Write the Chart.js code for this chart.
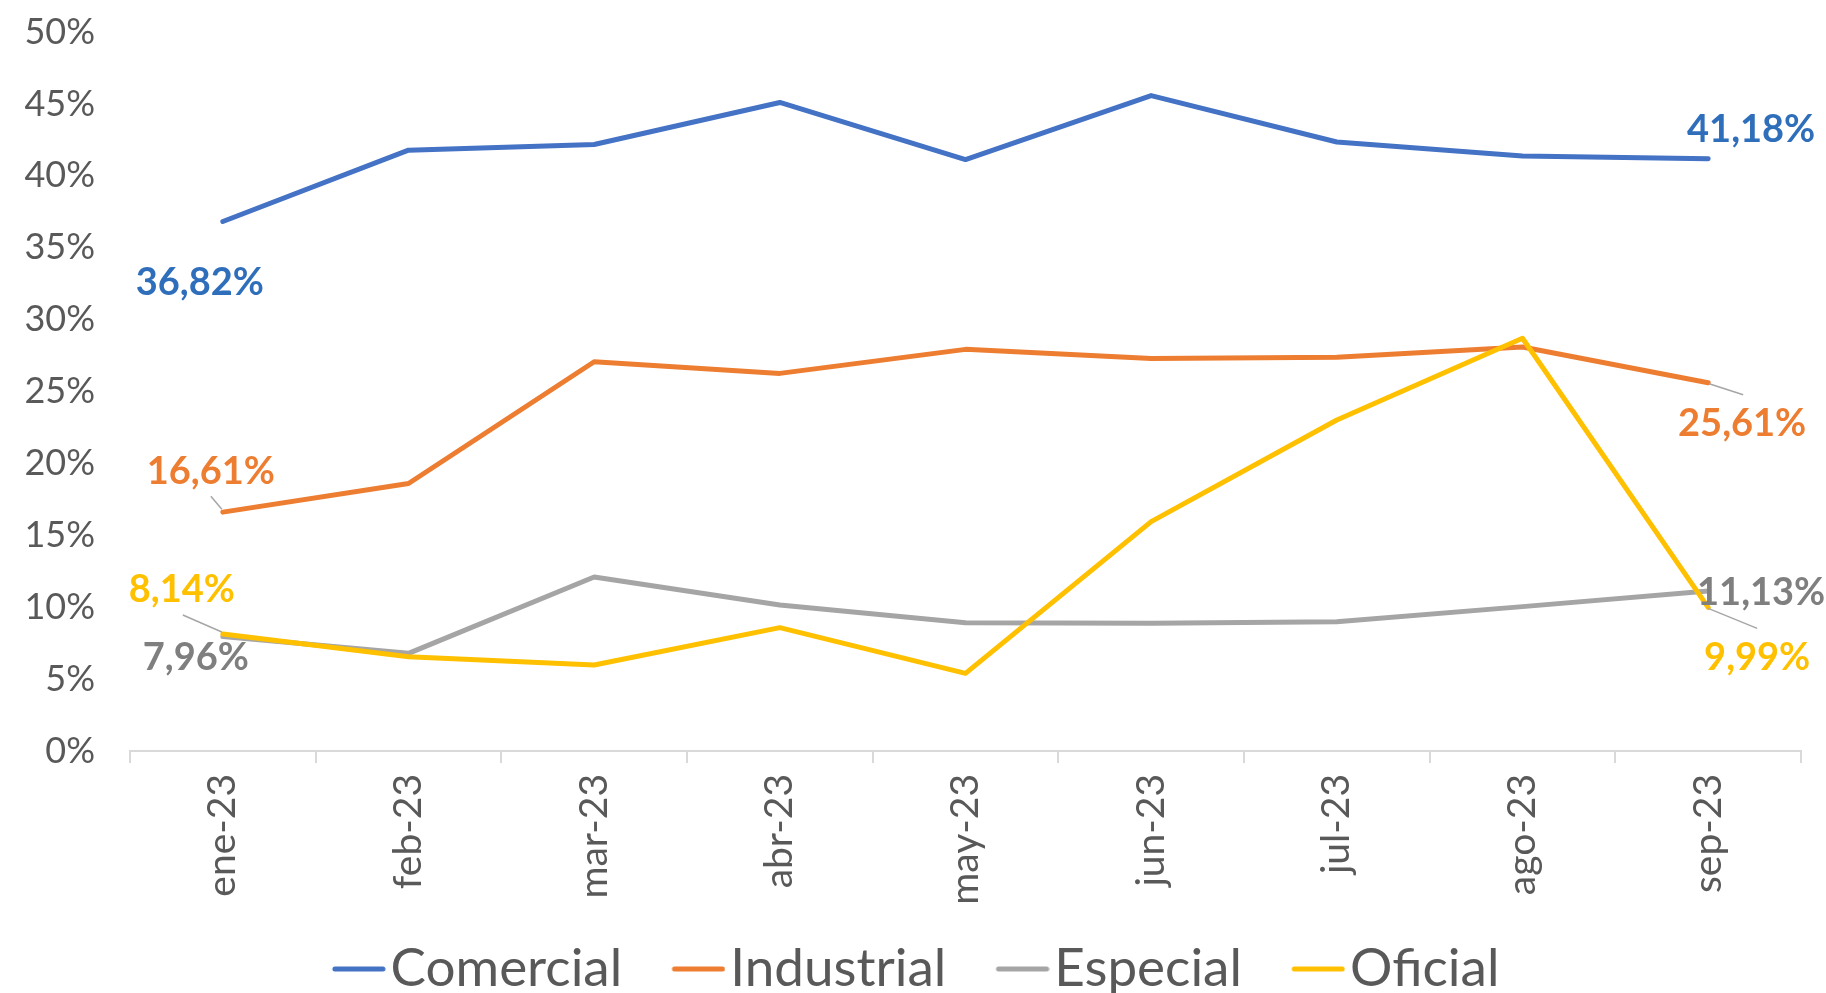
<!DOCTYPE html>
<html>
<head>
<meta charset="utf-8">
<script src="https://cdn.jsdelivr.net/npm/chart.js@4.4.0/dist/chart.umd.min.js"></script>
<style>
html,body{margin:0;padding:0;background:#fff;}
#wrap{width:1826px;height:993px;position:relative;overflow:hidden;}
</style>
</head>
<body>
<div id="wrap"><canvas id="c" width="1826" height="993"></canvas></div>
<script>
// ---- data ----
const categories = ['ene-23','feb-23','mar-23','abr-23','may-23','jun-23','jul-23','ago-23','sep-23'];
const comercial  = [36.82, 41.78, 42.18, 45.10, 41.13, 45.58, 42.35, 41.37, 41.18];
const industrial = [16.61, 18.60, 27.07, 26.26, 27.93, 27.30, 27.38, 28.10, 25.61];
const especial   = [7.96, 6.79, 12.10, 10.15, 8.92, 8.88, 8.99, 10.04, 11.13];
const oficial    = [8.14, 6.56, 5.98, 8.58, 5.40, 15.95, 23.02, 28.70, 9.99];
const seriesNames = ['Comercial','Industrial','Especial','Oficial'];
const yTickValues = [0, 5, 10, 15, 20, 25, 30, 35, 40, 45, 50];

const FONT = "Lato, 'Open Sans', 'DejaVu Sans', sans-serif";
const colors = ['#4472C4', '#ED7D31', '#A5A5A5', '#FFC000'];
const labelColors = ['#2F6EBA', '#ED7D31', '#7F7F7F', '#FFC000'];

// endpoint label placement (offsets from the point, in px)
const labelPlacement = [
  [{i:0, dx:-23, dy:61}, {i:8, dx:43, dy:-29}],
  [{i:0, dx:-12, dy:-40, leader:[[-1,-3],[-12,-16]]}, {i:8, dx:34, dy:41, leader:[[1,1],[35,12]]}],
  [{i:0, dx:-27, dy:21}, {i:8, dx:53, dy:2}],
  [{i:0, dx:-41, dy:-44, leader:[[-1,-2],[-40,-19]]}, {i:8, dx:49, dy:50, leader:[[0,1],[49,21]]}]
];

function legendLine(color){
  const c = document.createElement('canvas');
  c.width = 115; c.height = 12;
  const g = c.getContext('2d');
  g.strokeStyle = color; g.lineWidth = 5; g.lineCap = 'round';
  g.beginPath(); g.moveTo(64, 6); g.lineTo(112, 6); g.stroke();
  return c;
}
const legendImgs = colors.map(legendLine);

const endLabels = {
  id: 'endLabels',
  afterLayout(chart){
    if (chart.legend) { chart.legend.left -= 9; }
  },
  afterDatasetsDraw(chart){
    const ctx = chart.ctx;
    ctx.save();
    chart.data.datasets.forEach((ds, di) => {
      const meta = chart.getDatasetMeta(di);
      labelPlacement[di].forEach(p => {
        const pt = meta.data[p.i];
        const v = ds.data[p.i];
        if (p.leader){
          ctx.strokeStyle = '#A6A6A6'; ctx.lineWidth = 1.5;
          ctx.beginPath();
          ctx.moveTo(pt.x + p.leader[0][0], pt.y + p.leader[0][1]);
          ctx.lineTo(pt.x + p.leader[1][0], pt.y + p.leader[1][1]);
          ctx.stroke();
        }
        ctx.font = "bold 38px " + FONT;
        ctx.fillStyle = labelColors[di];
        ctx.textAlign = 'center'; ctx.textBaseline = 'middle';
        ctx.fillText(v.toFixed(2).replace('.', ',') + '%', pt.x + p.dx, pt.y + p.dy);
      });
    });
    ctx.restore();
  }
};

const datasets = [comercial, industrial, especial, oficial].map((d, i) => ({
  label: seriesNames[i],
  data: d,
  borderColor: colors[i],
  backgroundColor: colors[i],
  borderWidth: 5,
  pointRadius: 0,
  pointHoverRadius: 0,
  borderJoinStyle: 'round',
  borderCapStyle: 'round',
  tension: 0,
  order: 3 - i
}));

new Chart(document.getElementById('c'), {
  type: 'line',
  data: { labels: categories, datasets },
  plugins: [endLabels],
  options: {
    responsive: false,
    animation: false,
    events: [],
    layout: { padding: { top: 32, right: 25, left: 0, bottom: -12.5 } },
    plugins: {
      tooltip: { enabled: false },
      legend: {
        position: 'bottom',
        labels: {
          usePointStyle: true,
          pointStyleWidth: 71.5,
          padding: 10,
          color: '#595959',
          font: { family: FONT, size: 53 },
          sort: (a, b) => a.datasetIndex - b.datasetIndex,
          generateLabels(chart){
            const items = Chart.defaults.plugins.legend.labels.generateLabels(chart);
            items.forEach(it => { it.pointStyle = legendImgs[it.datasetIndex]; it.fontColor = '#595959'; });
            return items;
          }
        }
      }
    },
    scales: {
      x: {
        offset: true,
        grid: { display: true, offset: true, drawOnChartArea: false, drawTicks: true, tickLength: 12, color: '#D9D9D9', lineWidth: 2 },
        border: { display: true, color: '#D9D9D9', width: 2 },
        ticks: { minRotation: 90, maxRotation: 90, padding: 11, color: '#595959', font: { family: FONT, size: 39 } },
        afterFit(s){ s.height = 181.5; }
      },
      y: {
        min: 0, max: 50,
        afterBuildTicks(s){ s.ticks = yTickValues.map(v => ({ value: v })); },
        grid: { display: false, drawTicks: true, tickLength: 29 },
        border: { display: false },
        ticks: { padding: 6, color: '#595959', font: { family: FONT, size: 36 }, callback: v => v + '%' },
        afterFit(s){ s.width = 130; }
      }
    }
  }
});
</script>
</body>
</html>
